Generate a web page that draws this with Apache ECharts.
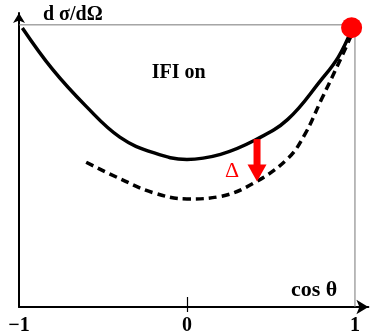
<!DOCTYPE html>
<html>
<head>
<meta charset="utf-8">
<script src="https://cdn.jsdelivr.net/npm/echarts@6/dist/echarts.min.js"></script>
<style>
  html, body { margin: 0; padding: 0; background: #fff; }
  #chart { width: 375px; height: 336px; }
</style>
</head>
<body>
<div id="chart"></div>
<script>
// Angular distribution dσ/dΩ versus cos θ, with and without interference (IFI)
const xTickValues = [-1, 0, 1];
const xTickLabels = ['\u22121', '0', '1'];

// IFI on (solid)
const ifiOn = [
  [-0.98, 0.989], [-0.8, 0.842], [-0.6, 0.711], [-0.4, 0.602], [-0.2, 0.547],
  [0, 0.523], [0.2, 0.541], [0.4, 0.59], [0.6, 0.665], [0.8, 0.806],
  [0.9, 0.885], [0.98, 0.982]
];

// IFI off (dashed)
const ifiOff = [
  [-0.6, 0.513], [-0.4, 0.455], [-0.2, 0.405], [0, 0.383], [0.2, 0.392],
  [0.4, 0.44], [0.6, 0.526], [0.7, 0.61], [0.8, 0.735], [0.9, 0.86],
  [0.98, 0.965]
];

// Common forward point
const forwardPoint = [[0.98, 0.99]];

// Shift Δ between the two curves: [x, upper, lower]
const deltaArrow = [[0.417, 0.595, 0.445]];

// Upper / right frame of the plot box
const frame = [[-1, 1], [1, 1], [1, 0]];

const serif = '"Liberation Serif", "DejaVu Serif", serif';

const chart = echarts.init(document.getElementById('chart'), null, { renderer: 'canvas' });

chart.setOption({
  animation: false,
  backgroundColor: '#fff',
  grid: { left: 19, right: 6.6, top: 13, bottom: 28 },
  xAxis: [{
    type: 'value', min: -1, max: 1.08,
    splitLine: { show: false },
    axisLine: {
      show: true, onZero: false,
      lineStyle: { color: '#000', width: 2 },
      symbol: ['none', 'arrow'], symbolSize: [11, 12]
    },
    axisTick: {
      show: true, inside: true, length: 10,
      customValues: [0], lineStyle: { color: '#000', width: 1.2 }
    },
    axisLabel: {
      show: true, customValues: xTickValues, margin: 9,
      formatter: v => xTickLabels[xTickValues.indexOf(v)],
      color: '#000', fontFamily: serif, fontWeight: 'bold', fontSize: 20
    }
  }, {
    type: 'value', min: -1, max: 1.08, position: 'bottom',
    splitLine: { show: false },
    axisLine: { show: false },
    axisTick: {
      show: true, inside: false, length: 5,
      customValues: [0], lineStyle: { color: '#000', width: 1.2 }
    },
    axisLabel: { show: false }
  }],
  yAxis: {
    type: 'value', min: 0, max: 1.042,
    splitLine: { show: false },
    axisTick: { show: false },
    axisLabel: { show: false },
    axisLine: {
      show: true, onZero: false,
      lineStyle: { color: '#000', width: 2 },
      symbol: ['none', 'arrow'], symbolSize: [9, 10]
    }
  },
  graphic: [
    {
      type: 'text', left: 43, top: 5,
      style: { text: 'd σ/dΩ', font: 'bold 20px ' + serif, fill: '#000' }
    },
    {
      type: 'text', left: 291, top: 279,
      style: { text: 'cos θ', font: 'bold 22px ' + serif, fill: '#000' }
    }
  ],
  series: [
    {
      type: 'line', data: frame, silent: true, symbol: 'none',
      lineStyle: { color: '#777', width: 1 }, z: 1
    },
    {
      name: 'IFI on', type: 'line', data: ifiOn, smooth: 0.4, symbol: 'none',
      lineStyle: { color: '#000', width: 3.5 }, z: 3
    },
    {
      name: 'IFI off', type: 'line', data: ifiOff, smooth: 0.4, symbol: 'none',
      lineStyle: { color: '#000', width: 3.5, type: [8, 5] }, z: 3
    },
    {
      type: 'custom', data: deltaArrow, z: 4,
      renderItem: function (params, api) {
        const top = api.coord([api.value(0), api.value(1)]);
        const tip = api.coord([api.value(0), api.value(2)]);
        const headH = 17, headW = 19, shaftW = 7;
        return {
          type: 'group',
          children: [
            {
              type: 'rect',
              shape: { x: top[0] - shaftW / 2, y: top[1], width: shaftW, height: tip[1] - headH - top[1] + 1 },
              style: { fill: '#f00' }
            },
            {
              type: 'polygon',
              shape: { points: [[tip[0] - headW / 2, tip[1] - headH], [tip[0] + headW / 2, tip[1] - headH], [tip[0], tip[1]]] },
              style: { fill: '#f00' }
            }
          ]
        };
      }
    },
    {
      type: 'scatter', data: forwardPoint, symbolSize: 21,
      itemStyle: { color: '#f00', opacity: 1 }, z: 5
    },
    {
      type: 'scatter', symbolSize: 0, silent: true, z: 6,
      itemStyle: { opacity: 1 },
      data: [
        { value: [-0.05, 0.83], label: { show: true, position: 'inside', formatter: 'IFI on', color: '#000', fontFamily: serif, fontWeight: 'bold', fontSize: 20 } },
        { value: [0.268, 0.48], label: { show: true, position: 'inside', formatter: 'Δ', color: '#f00', fontFamily: serif, fontSize: 22 } }
      ]
    }
  ]
});
</script>
</body>
</html>
